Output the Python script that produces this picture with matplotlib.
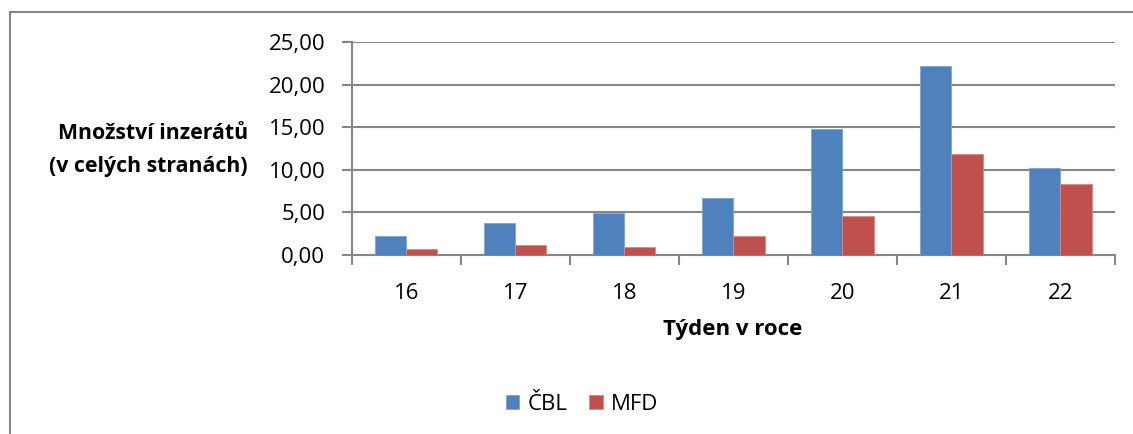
import numpy as np
import matplotlib
matplotlib.use("Agg")
import matplotlib.pyplot as plt
from matplotlib.patches import Rectangle
from matplotlib.ticker import FuncFormatter

# data
weeks = ["16", "17", "18", "19", "20", "21", "22"]
cbl = [2.23, 3.79, 4.90, 6.73, 14.79, 22.18, 10.21]
mfd = [0.70, 1.17, 0.98, 2.19, 4.54, 11.82, 8.30]

plt.rcParams['font.family'] = ['Open Sans', 'DejaVu Sans']

W, H = 1133, 434
fig = plt.figure(figsize=(W / 100, H / 100), dpi=100)
ax = fig.add_axes([351.7 / W, 1 - 255 / H, (1115 - 351.7) / W, 213 / H])

gray = "#868686"
fs = 16
x = np.arange(len(weeks))
bw = 1 / 3.5
ax.bar(x - bw / 2, cbl, bw, color="#4F81BD", edgecolor="#7FA3D0", linewidth=0.6, label="ČBL", zorder=3)
ax.bar(x + bw / 2, mfd, bw, color="#C0504D", edgecolor="#D98A88", linewidth=0.6, label="MFD", zorder=3)

ax.set_xlim(-0.5, len(weeks) - 0.5)
ax.set_ylim(0, 25)
ax.set_yticks(np.arange(0, 26, 5))
ax.yaxis.set_major_formatter(FuncFormatter(lambda v, p: f"{v:.2f}".replace(".", ",")))
ax.set_xticks(x)
ax.set_xticklabels(weeks)
ax.set_xticks(np.arange(-0.5, len(weeks)), minor=True)
ax.tick_params(axis="x", which="major", length=0, labelsize=fs, pad=20)
ax.tick_params(axis="x", which="minor", length=7, width=1.5, color=gray, direction="out")
ax.tick_params(axis="y", length=7, width=1.5, color=gray, labelsize=fs, pad=12)

ax.grid(axis="y", color=gray, linewidth=1.5, zorder=0)
for s in ["top", "right"]:
    ax.spines[s].set_visible(False)
for s in ["left", "bottom"]:
    ax.spines[s].set_color(gray)
    ax.spines[s].set_linewidth(1.5)

fig.text(248 / W, 1 - 150 / H, "Množství inzerátů\n(v celých stranách)", ha="right", va="center",
         fontsize=15.3, fontweight="bold", linespacing=1.7)
fig.text(733 / W, 1 - 330 / H, "Týden v roce", ha="center", va="center", fontsize=fs, fontweight="bold")

fig.legend(loc="center", bbox_to_anchor=(582 / W, 1 - 404 / H), ncol=2, frameon=False,
           fontsize=fs, handlelength=0.6, handleheight=0.6, handletextpad=0.35, columnspacing=1.0)

# outer chart border (cut off on the right and bottom)
fig.patches.append(Rectangle((10.5 / W, -0.1), 1.2, 1 - 12.5 / H + 0.1, transform=fig.transFigure,
                             fill=False, edgecolor=gray, linewidth=1.5))

fig.savefig("out.png", dpi=100, facecolor="white")
